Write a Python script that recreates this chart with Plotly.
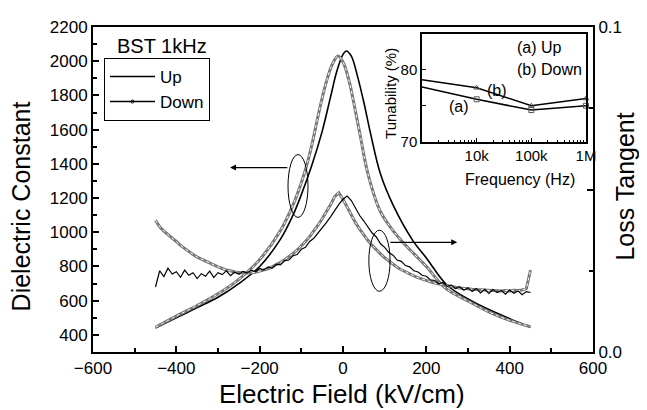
import plotly.graph_objects as go

# ---------------- data ----------------
# Dielectric constant vs electric field (kV/cm)
e_up = [-450, -400, -350, -300, -250, -200, -150, -120, -100, -75, -50, -30, -15, 0, 8,
        20, 35, 50, 65, 90, 120, 168, 200, 250, 300, 350, 400, 450]
eps_up = [440, 500, 560, 620, 700, 800, 960, 1100, 1220, 1390, 1590, 1790, 1940, 2040, 2060,
          2030, 1910, 1760, 1590, 1340, 1160, 950, 850, 690, 610, 548, 495, 445]

e_down = [-450, -400, -350, -300, -250, -200, -150, -120, -100, -85, -72, -58, -40, -25, -12,
          0, 15, 28, 41, 60, 90, 120, 144, 200, 245, 300, 350, 400, 450]
eps_down = [445, 510, 572, 640, 725, 840, 1010, 1160, 1290, 1410, 1540, 1700, 1880, 1985, 2030,
            1995, 1880, 1730, 1570, 1340, 1120, 1010, 940, 800, 675, 598, 535, 485, 448]

# Loss tangent vs electric field, field steps of 10 kV/cm from -450 to 450
e_loss = list(range(-450, 451, 10))
tan_up = [0.0200, 0.0250, 0.0232, 0.0258, 0.0240, 0.0247, 0.0230, 0.0252, 0.0236, 0.0244,
          0.0226, 0.0241, 0.0233, 0.0249, 0.0229, 0.0244, 0.0238, 0.0250, 0.0235, 0.0246,
          0.0239, 0.0248, 0.0243, 0.0252, 0.0247, 0.0257, 0.0252, 0.0262, 0.0258, 0.0270,
          0.0268, 0.0281, 0.0283, 0.0296, 0.0300, 0.0316, 0.0322, 0.0340, 0.0350, 0.0366,
          0.0380, 0.0398, 0.0416, 0.0436, 0.0454, 0.0470, 0.0480, 0.0466, 0.0442, 0.0420,
          0.0403, 0.0385, 0.0366, 0.0354, 0.0333, 0.0322, 0.0306, 0.0298, 0.0283, 0.0279,
          0.0266, 0.0262, 0.0250, 0.0246, 0.0236, 0.0233, 0.0222, 0.0220, 0.0210, 0.0214,
          0.0202, 0.0206, 0.0195, 0.0201, 0.0190, 0.0198, 0.0186, 0.0195, 0.0182, 0.0193,
          0.0180, 0.0192, 0.0183, 0.0189, 0.0178, 0.0191, 0.0181, 0.0188, 0.0176, 0.0186,
          0.0183]
tan_down = [0.0405, 0.0385, 0.0372, 0.0362, 0.0350, 0.0340, 0.0328, 0.0318, 0.0309, 0.0300,
            0.0292, 0.0286, 0.0278, 0.0272, 0.0266, 0.0262, 0.0257, 0.0252, 0.0250, 0.0246,
            0.0245, 0.0243, 0.0243, 0.0244, 0.0245, 0.0249, 0.0252, 0.0256, 0.0262, 0.0268,
            0.0276, 0.0284, 0.0293, 0.0303, 0.0314, 0.0326, 0.0340, 0.0355, 0.0372, 0.0390,
            0.0410, 0.0430, 0.0453, 0.0478, 0.0490, 0.0470, 0.0445, 0.0420, 0.0398, 0.0378,
            0.0360, 0.0343, 0.0328, 0.0314, 0.0302, 0.0290, 0.0280, 0.0270, 0.0261, 0.0253,
            0.0246, 0.0240, 0.0234, 0.0229, 0.0224, 0.0220, 0.0216, 0.0212, 0.0209, 0.0206,
            0.0203, 0.0201, 0.0199, 0.0197, 0.0195, 0.0194, 0.0193, 0.0192, 0.0191, 0.0190,
            0.0190, 0.0189, 0.0189, 0.0188, 0.0189, 0.0188, 0.0190, 0.0189, 0.0191, 0.0195,
            0.0252]

# Inset: tunability vs frequency
freq = [1e3, 1e4, 1e5, 1e6]
tun_up = [77.6, 75.9, 74.4, 75.0]
tun_down = [78.6, 77.5, 75.0, 76.0]
freq_tickvals = [1e4, 1e5, 1e6]
freq_ticktext = ["10k", "100k", "1M"]
freq_minor = [m * d for d in (1e3, 1e4, 1e5) for m in range(2, 10)]

FONT = "Liberation Sans, Arial, sans-serif"
TUBE_OUT = "#777777"

fig = go.Figure()

# Dielectric constant, Up (solid black)
fig.add_trace(go.Scatter(x=e_up, y=eps_up, mode="lines", line=dict(color="black", width=1.6, shape="spline"),
                         showlegend=False, xaxis="x", yaxis="y"))
# Dielectric constant, Down (grey hollow tube)
fig.add_trace(go.Scatter(x=e_down, y=eps_down, mode="lines", line=dict(color=TUBE_OUT, width=3.0, shape="spline"),
                         showlegend=False, xaxis="x", yaxis="y"))
fig.add_trace(go.Scatter(x=e_down, y=eps_down, mode="lines", line=dict(color="white", width=1.0, shape="spline", dash="dot"),
                         showlegend=False, xaxis="x", yaxis="y"))

# Loss tangent
fig.add_trace(go.Scatter(x=e_loss, y=tan_down, mode="lines", line=dict(color=TUBE_OUT, width=3.0),
                         showlegend=False, xaxis="x", yaxis="y2"))
fig.add_trace(go.Scatter(x=e_loss, y=tan_down, mode="lines", line=dict(color="white", width=1.0, dash="dot"),
                         showlegend=False, xaxis="x", yaxis="y2"))
fig.add_trace(go.Scatter(x=e_loss, y=tan_up, mode="lines", line=dict(color="black", width=1.2),
                         showlegend=False, xaxis="x", yaxis="y2"))

# Legend-only entries
fig.add_trace(go.Scatter(x=[None], y=[None], mode="lines", name="Up", line=dict(color="black", width=1.6),
                         xaxis="x", yaxis="y"))
fig.add_trace(go.Scatter(x=[None], y=[None], mode="lines+markers", name="Down",
                         line=dict(color="black", width=1.6),
                         marker=dict(symbol="circle-open", size=3, color="black"),
                         xaxis="x", yaxis="y"))

# Inset traces
fig.add_trace(go.Scatter(x=freq, y=tun_down, mode="lines+markers", line=dict(color="black", width=1.5),
                         marker=dict(symbol="triangle-up-open", size=5, color="#555"),
                         showlegend=False, xaxis="x2", yaxis="y3", cliponaxis=False))
fig.add_trace(go.Scatter(x=freq, y=tun_up, mode="lines+markers", line=dict(color="black", width=1.5),
                         marker=dict(symbol="square-open", size=5, color="#555"),
                         showlegend=False, xaxis="x2", yaxis="y3", cliponaxis=False))

tickfont = dict(family=FONT, size=17, color="black")
inset_font = dict(family=FONT, size=15, color="black")

fig.update_layout(
    width=639, height=402,
    margin=dict(l=85, r=54, t=10, b=58),
    paper_bgcolor="white", plot_bgcolor="white",
    font=dict(family=FONT, color="black"),
    xaxis=dict(domain=[0, 1], range=[-600, 600], dtick=200, tick0=0, ticks="inside", ticklen=6,
               tickwidth=1.5, tickcolor="black", showline=True, linewidth=2, linecolor="black",
               mirror=True, showgrid=False, zeroline=False, tickfont=tickfont,
               minor=dict(dtick=100, ticks="inside", ticklen=4, tickwidth=1.5, tickcolor="black")),
    yaxis=dict(range=[300, 2200], dtick=200, tick0=0, ticks="inside", ticklen=6, tickwidth=1.5,
               tickcolor="black", showline=True, linewidth=2, linecolor="black", showgrid=False,
               zeroline=False, tickfont=tickfont,
               minor=dict(dtick=100, ticks="inside", ticklen=4, tickwidth=1.5, tickcolor="black")),
    yaxis2=dict(overlaying="y", side="right", range=[0, 0.1], tickvals=[0, 0.05, 0.1],
                ticktext=["0.0", "", "0.1"], ticks="inside", ticklen=6, tickwidth=1.5, tickcolor="black",
                showline=True, linewidth=2, linecolor="black", showgrid=False, zeroline=False,
                tickfont=tickfont,
                minor=dict(tickvals=[0.025, 0.075], ticks="inside", ticklen=4, tickwidth=1.5, tickcolor="black")),
    xaxis2=dict(domain=[0.658, 0.986], anchor="y3", type="log", range=[3, 6], tickvals=freq_tickvals,
                ticktext=freq_ticktext, ticks="inside", ticklen=4, tickcolor="black", showline=True,
                linewidth=1.5, linecolor="black", mirror=True, showgrid=False, zeroline=False,
                tickfont=inset_font,
                minor=dict(tickvals=freq_minor, ticks="inside", ticklen=2, tickcolor="black", showgrid=False)),
    yaxis3=dict(domain=[0.647, 0.979], anchor="x2", range=[70, 85], tickvals=[70, 80],
                ticks="inside", ticklen=4, tickcolor="black", showline=True, linewidth=1.5,
                linecolor="black", mirror=True, showgrid=False, zeroline=False, tickfont=inset_font,
                minor=dict(tickvals=[75], ticks="inside", ticklen=4, tickcolor="black")),
    legend=dict(x=0.022, y=0.905, xanchor="left", yanchor="top", bordercolor="black", borderwidth=1,
                bgcolor="white", font=dict(family=FONT, size=17, color="black"), tracegroupgap=0,
                itemwidth=45),
    showlegend=True,
)

ann = [
    dict(text="Dielectric Constant", x=-0.144, y=0.448, textangle=-90, font=dict(family=FONT, size=25)),
    dict(text="Loss Tangent", x=1.064, y=0.509, textangle=-90, font=dict(family=FONT, size=25)),
    dict(text="Electric Field (kV/cm)", x=0.498, y=-0.129, font=dict(family=FONT, size=26)),
    dict(text="BST 1kHz", x=0.044, y=0.942, xanchor="left", font=dict(family=FONT, size=20)),
    dict(text="Tunability (%)", x=0.596, y=0.794, textangle=-90, font=dict(family=FONT, size=15)),
    dict(text="Frequency (Hz)", x=0.854, y=0.531, font=dict(family=FONT, size=16)),
    dict(text="(a) Up", x=0.844, y=0.936, xanchor="left", font=dict(family=FONT, size=16)),
    dict(text="(b) Down", x=0.844, y=0.868, xanchor="left", font=dict(family=FONT, size=16)),
    dict(text="(b)", x=0.808, y=0.804, font=dict(family=FONT, size=16)),
    dict(text="(a)", x=0.732, y=0.755, font=dict(family=FONT, size=16)),
]
for a in ann:
    a.setdefault("xanchor", "center")
    fig.add_annotation(xref="paper", yref="paper", showarrow=False, yanchor="middle",
                       font_color="black", **a)

# Arrows pointing to the associated axes
fig.add_annotation(x=-271, y=1378, ax=-130, ay=1378, xref="x", yref="y", axref="x", ayref="y",
                   showarrow=True, arrowhead=2, arrowsize=1, arrowwidth=1.2, arrowcolor="black", text="")
fig.add_annotation(x=274, y=941, ax=110, ay=941, xref="x", yref="y", axref="x", ayref="y",
                   showarrow=True, arrowhead=2, arrowsize=1, arrowwidth=1.2, arrowcolor="black", text="")

# Ellipses grouping curves
fig.add_shape(type="circle", xref="x", yref="y", x0=-132, x1=-84, y0=1087, y1=1454,
              line=dict(color="black", width=1))
fig.add_shape(type="circle", xref="x", yref="y", x0=62, x1=113, y0=655, y1=1012,
              line=dict(color="black", width=1))

fig.write_html("out.html")
